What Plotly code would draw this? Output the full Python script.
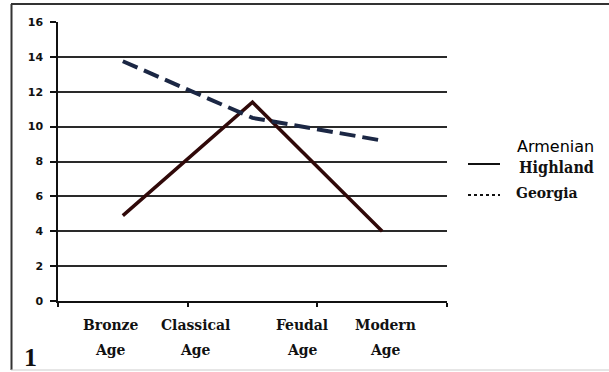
import plotly.graph_objects as go

# ---- data ----
point_index = [0, 1, 2]
armenian_highland = [4.9, 11.4, 4.0]
georgia = [13.75, 10.5, 9.2]
period_top = ["Bronze", "Classical", "Feudal", "Modern"]
period_bottom = ["Age", "Age", "Age", "Age"]
y_ticks = [0, 2, 4, 6, 8, 10, 12, 14, 16]

W, H = 609, 372
L, R, T, B = 58, 162, 22, 71
PW, PH = W - L - R, H - T - B


def px(x):
    return (x - L) / PW


def py(y):
    return (H - B - y) / PH


fig = go.Figure()
fig.add_trace(go.Scatter(
    x=point_index, y=armenian_highland, mode="lines",
    line=dict(color="#300909", width=3.5), name="Armenian Highland",
    showlegend=False))
fig.add_trace(go.Scatter(
    x=point_index, y=georgia, mode="lines",
    line=dict(color="#1b2744", width=4, dash="16px,7px"), name="Georgia",
    showlegend=False))

fig.update_layout(
    width=W, height=H,
    margin=dict(l=L, r=R, t=T, b=B),
    paper_bgcolor="white", plot_bgcolor="white",
    xaxis=dict(range=[-0.5, 2.5], showgrid=False, zeroline=False,
               tickvals=[-0.5, 0.5, 1.5, 2.5], showticklabels=False,
               ticks="outside", ticklen=4, tickwidth=1.5, tickcolor="#111",
               showline=True, linecolor="#111", linewidth=1.5),
    yaxis=dict(range=[0, 16], tickvals=y_ticks, showgrid=True,
               gridcolor="#2a2a2a", gridwidth=1.5, zeroline=False,
               showline=True, linecolor="#111", linewidth=1.5,
               ticks="outside", ticklen=6, tickwidth=1.5, tickcolor="#111",
               ticklabelstandoff=5,
               tickfont=dict(family="DejaVu Sans", size=11, color="#111",
                             weight="bold")),
)

cat_x = [-0.099, 0.557, 1.382, 2.022]
serif = dict(family="DejaVu Serif Condensed, Liberation Serif", size=15.5,
             color="#111", weight="bold")
for xv, top, bot in zip(cat_x, period_top, period_bottom):
    fig.add_annotation(x=xv, xref="x", y=py(324), yref="paper", text=top,
                       showarrow=False, font=serif, xanchor="center",
                       yanchor="middle")
    fig.add_annotation(x=xv, xref="x", y=py(349), yref="paper", text=bot,
                       showarrow=False, font=serif, xanchor="center",
                       yanchor="middle")

# figure number
fig.add_annotation(x=px(30), xref="paper", y=py(357), yref="paper", text="1",
                   showarrow=False, xanchor="center", yanchor="middle",
                   font=dict(family="Liberation Serif", size=26, color="#111",
                             weight="bold"))

# legend (manual)
fig.add_annotation(x=px(555), xref="paper", y=py(146), yref="paper",
                   text="Armenian", showarrow=False, xanchor="center",
                   yanchor="middle",
                   font=dict(family="DejaVu Sans", size=16, color="#000"))
fig.add_annotation(x=px(556), xref="paper", y=py(167), yref="paper",
                   text="Highland", showarrow=False, xanchor="center",
                   yanchor="middle",
                   font=dict(family="DejaVu Serif Condensed, Liberation Serif",
                             size=16, color="#111", weight="bold"))
fig.add_annotation(x=px(547), xref="paper", y=py(192), yref="paper",
                   text="Georgia", showarrow=False, xanchor="center",
                   yanchor="middle",
                   font=dict(family="DejaVu Serif Condensed, Liberation Serif",
                             size=15.5, color="#111", weight="bold"))
fig.add_shape(type="line", xref="paper", yref="paper",
              x0=px(468), x1=px(500), y0=py(164), y1=py(164),
              line=dict(color="#111", width=2))
fig.add_shape(type="line", xref="paper", yref="paper",
              x0=px(468), x1=px(500), y0=py(195), y1=py(195),
              line=dict(color="#111", width=2, dash="3px,3px"))

# outer frame
fig.add_shape(type="line", xref="paper", yref="paper",
              x0=px(11.5), x1=px(11.5), y0=py(4), y1=py(370),
              line=dict(color="#333", width=2))
fig.add_shape(type="line", xref="paper", yref="paper",
              x0=px(11), x1=px(612), y0=py(4), y1=py(4),
              line=dict(color="#333", width=2))
fig.add_shape(type="line", xref="paper", yref="paper",
              x0=px(11), x1=px(612), y0=py(370), y1=py(370),
              line=dict(color="#ccc", width=1))

fig.write_html("out.html")
